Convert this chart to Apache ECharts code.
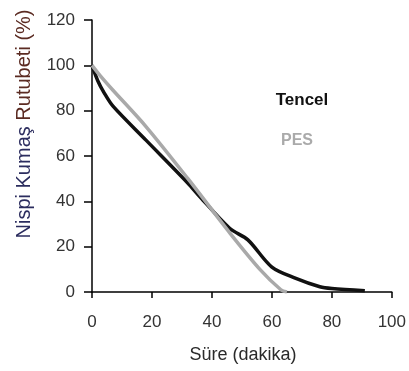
<!DOCTYPE html>
<html>
<head>
<meta charset="utf-8">
<script src="https://cdn.jsdelivr.net/npm/echarts@6/dist/echarts.min.js"></script>
<style>
  html, body { margin: 0; padding: 0; background: #fff; }
  #chart { width: 409px; height: 371px; }
</style>
</head>
<body>
<div id="chart"></div>
<script>
// Tencel eğrisi (süre dakika, nem %)
const tencelTime = [0, 2, 4, 7, 18, 32, 36, 46, 52, 60, 68, 76, 80, 91]
const tencelValues = [100, 93, 88, 82, 67, 48, 42, 28, 23, 11, 6, 2.3, 1.5, 0.5]
// PES eğrisi
const pesTime = [0, 3, 7, 18, 32, 46, 56, 63, 65]
const pesValues = [100, 95, 89, 73, 50, 26, 10, 1, 0]

const xTicks = [0, 20, 40, 60, 80, 100]
const yTicks = [0, 20, 40, 60, 80, 100, 120]

const pairs = (xs, ys) => xs.map((x, i) => [x, ys[i]])

var myChart = echarts.init(document.querySelector('#chart'))

const axisFont = 'Liberation Sans, Arial, sans-serif'

option = {
  animation: false,
  grid: { left: 92, right: 17, top: 20, bottom: 79 },
  xAxis: {
    type: 'value',
    min: xTicks[0],
    max: xTicks[xTicks.length - 1],
    interval: 20,
    axisLine: { lineStyle: { color: '#000', width: 1.5 } },
    axisTick: { show: true, length: 6, lineStyle: { color: '#000', width: 1.5 } },
    axisLabel: { color: '#333', fontSize: 17, margin: 22, fontFamily: axisFont },
    splitLine: { show: false }
  },
  yAxis: {
    type: 'value',
    min: yTicks[0],
    max: yTicks[yTicks.length - 1],
    interval: 20,
    axisLine: { show: true, lineStyle: { color: '#000', width: 1.5 } },
    axisTick: { show: true, length: 8, lineStyle: { color: '#000', width: 1.5 } },
    axisLabel: { color: '#333', fontSize: 17, margin: 17, fontFamily: axisFont },
    splitLine: { show: false }
  },
  graphic: [
    // eksen başlıkları
    {
      type: 'text', x: 243, y: 355,
      style: {
        text: 'Süre (dakika)', fill: '#2a2a2a', font: '18px ' + axisFont,
        align: 'center', verticalAlign: 'middle'
      }
    },
    {
      type: 'text', x: 24, y: 124, rotation: Math.PI / 2,
      style: {
        text: '{a|Nispi Kumaş }{b|Rutubeti (%)}',
        font: '20px ' + axisFont,
        align: 'center', verticalAlign: 'middle',
        rich: {
          a: { fill: '#2b2c5e', font: '20px ' + axisFont },
          b: { fill: '#5b2b22', font: '20px ' + axisFont }
        }
      }
    },
    // seri etiketleri
    {
      type: 'text', x: 302, y: 100,
      style: {
        text: 'Tencel', fill: '#111', font: 'bold 17px ' + axisFont,
        align: 'center', verticalAlign: 'middle'
      }
    },
    {
      type: 'text', x: 297, y: 141,
      style: {
        text: 'PES', fill: '#aaa', font: 'bold 16px ' + axisFont,
        align: 'center', verticalAlign: 'middle'
      }
    }
  ],
  series: [
    {
      name: 'Tencel',
      type: 'line',
      data: pairs(tencelTime, tencelValues),
      smooth: 0.3,
      showSymbol: false,
      lineStyle: { color: '#111', width: 3.5 }
    },
    {
      name: 'PES',
      type: 'line',
      data: pairs(pesTime, pesValues),
      smooth: 0.3,
      showSymbol: false,
      lineStyle: { color: '#a9a9a9', width: 3.5 }
    }
  ]
}
myChart.setOption(option)
</script>
</body>
</html>
